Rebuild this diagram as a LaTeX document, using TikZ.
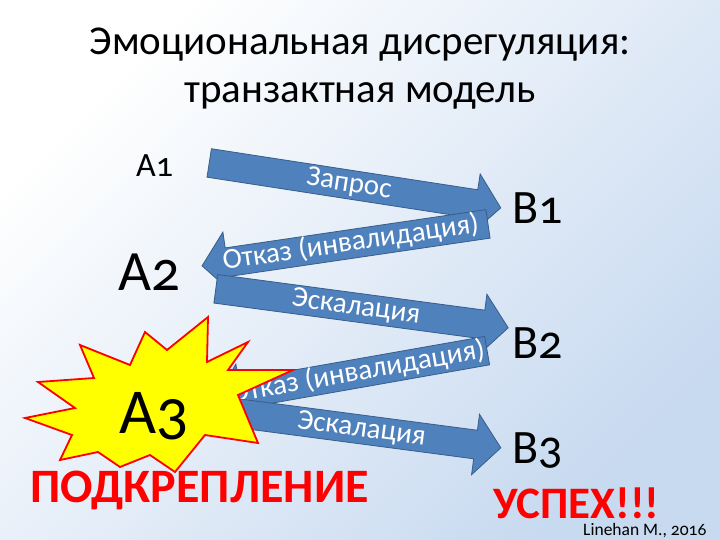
\documentclass[tikz,border=0pt]{standalone}
\usepackage{fontspec}
\setmainfont{Carlito}[Numbers=OldStyle]
\usetikzlibrary{shapes.arrows}
\definecolor{arrowblue}{RGB}{79,129,189}
\definecolor{arrowedge}{RGB}{56,93,138}
\definecolor{bgblue}{RGB}{200,218,240}
\definecolor{burstred}{RGB}{255,0,0}
\definecolor{burstyellow}{RGB}{255,255,0}

\begin{document}
\begin{tikzpicture}[x=1pt, y=-1pt]
  \tikzset{
    flow/.style={single arrow, fill=arrowblue, draw=arrowedge, line width=0.8pt,
      text=white, font=\fontsize{29}{29}\selectfont,
      text height=17pt, text depth=3pt, inner ysep=4pt, inner xsep=2pt,
      single arrow head extend=16pt, single arrow tip angle=100},
    back/.style={shape border rotate=180},
    lbl/.style={anchor=base west, inner sep=0pt, font=\fontsize{#1}{#1}\selectfont},
    loud/.style={anchor=base west, inner sep=0pt, text=burstred,
      font=\fontsize{#1}{#1}\selectfont\bfseries}
  }

  % Achtergrond
  \useasboundingbox (0,0) rectangle (720,540);
  \shade[top color=white, middle color=white, bottom color=bgblue, shading angle=45]
    (0,0) rectangle (720,540);

  % Titel
  \node[anchor=base, inner sep=0pt, font=\fontsize{41}{48}\selectfont]
    (title) at (360,55) {Эмоциональная дисрегуляция:};
  \node[anchor=base, inner sep=0pt, font=\fontsize{41}{48}\selectfont]
    (subtitle) at (360,103) {транзактная модель};

  % Pijlen
  \node[flow, minimum height=295pt, rotate=-8.76] (zapros) at (349,184.5) {Запрос};
  \node[flow, back, minimum height=289pt, rotate=8.35] (otkaz1) at (351,244) {Отказ (инвалидация)};
  \node[flow, minimum height=295pt, rotate=-7.6] (eskal1) at (356,307.5) {Эскалация};
  \node[flow, back, minimum height=269pt, rotate=10] (otkaz2) at (357.5,373.5) {Отказ (инвалидация)};
  \node[flow, minimum height=269pt, rotate=-7.5] (eskal2) at (361.5,429.5) {Эскалация};

  % Ster
  \draw[fill=burstyellow, draw=burstred, line width=1.8pt, line join=miter]
    (208,317) -- (207,362) -- (248,342) -- (228,370) -- (293,370) -- (238,395)
    -- (258,443) -- (205,435) -- (175,472) -- (150,455) -- (120,467) -- (98,452)
    -- (60,460) -- (72,435) -- (25,418) -- (75,408) -- (38,382) -- (94,378)
    -- (80,345) -- (130,365) -- (145,332) -- (167,350) -- cycle;

  % Labels links en rechts
  \node[lbl=34] (a1) at (136,177) {A1};
  \node[lbl=57] (a2) at (118,290) {A2};
  \node[lbl=64] (a3) at (119,433) {A3};
  \node[lbl=48] (b1) at (512,223) {B1};
  \node[lbl=48] (b2) at (512,358) {B2};
  \node[lbl=48] (b3) at (512,463) {B3};

  \node[loud=48] (reinforce) at (30,502) {ПОДКРЕПЛЕНИЕ};
  \node[loud=45] (success) at (493,518) {УСПЕХ!!!};
  \node[lbl=17.5] (cite) at (583,535) {Linehan M., 2016};
\end{tikzpicture}
\end{document}
